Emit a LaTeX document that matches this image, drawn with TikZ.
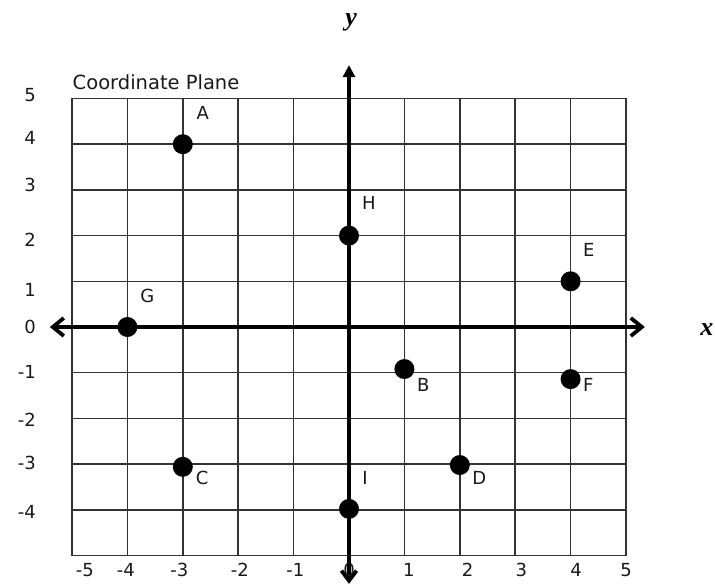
\documentclass[tikz,border=0pt]{standalone}
\usepackage{fontspec}
\setmainfont{DejaVu Sans}
\newfontfamily\axisfont{Liberation Serif}
\usetikzlibrary{arrows.meta}
\begin{document}
\begin{tikzpicture}[x=55.4pt,y=45.7pt,
  gridline/.style={draw=black!80, line width=1.5pt},
  axisline/.style={line width=3.8pt, line cap=butt},
  dot/.style={circle, fill=black, inner sep=0pt, minimum size=20pt},
  ptlabel/.style={font=\fontsize{18}{20}\selectfont, inner sep=0pt, text=black!90},
  numlabel/.style={font=\fontsize{18}{20}\selectfont, inner sep=0pt, text=black!90},
  axlabel/.style={font=\axisfont\bfseries\itshape\fontsize{26}{28}\selectfont, inner sep=0pt}]
\useasboundingbox (-349pt,-260pt) rectangle (366pt,327pt);
% grid
\foreach \i in {-5,...,5} {
  \draw[gridline] (\i,-5) -- (\i,5);
  \draw[gridline] (-5,\i) -- (5,\i);
}
% axes
\coordinate (xl) at (-5.40,0);
\coordinate (xr) at (5.34,0);
\coordinate (yb) at (0,-5.62);
\coordinate (yt) at (0,5.73);
\draw[axisline, {Straight Barb[length=11pt,width=18pt]}-{Straight Barb[length=11pt,width=18pt]}] (xl) -- (xr);
\draw[axisline, {Straight Barb[length=10pt,width=15pt]}-{Triangle[length=12pt,width=12pt]}] (yb) -- (yt);
\node[axlabel] (xlab) at (6.46,-0.06) {x};
\node[axlabel] (ylab) at (0.04,6.66) {y};
% title
\node[anchor=base west, inner sep=0pt, font=\fontsize{19.5}{21}\selectfont, text=black!90] (title) at (-4.99,5.19) {Coordinate Plane};
% left labels
\foreach \v/\yy in {5/5.08,4/4.14,3/3.11,2/1.90,1/0.81,0/0,-1/-0.98,-2/-2.03,-3/-2.98,-4/-4.05} {
  \node[numlabel, anchor=east] (yl\v) at (-5.65,\yy) {\v};
}
% bottom labels
\foreach \v/\xx in {-5/-4.77,-4/-4.03,-3/-3.06,-2/-1.97,-1/-0.97,0/0,1/1.08,2/2.14,3/3.11,4/4.10,5/5.00} {
  \node[numlabel] (xl\v) at (\xx,-5.32) {\v};
}
% points
\node[dot] (A) at (-3,4) {};
\node[dot] (H) at (0,2) {};
\node[dot] (E) at (4,1) {};
\node[dot] (G) at (-4,0) {};
\node[dot] (B) at (1,-0.92) {};
\node[dot] (F) at (4,-1.14) {};
\node[dot] (C) at (-3,-3.06) {};
\node[dot] (D) at (2,-3.02) {};
\node[dot] (I) at (0,-3.98) {};
% point labels
\node[ptlabel] (lA) at (-2.64,4.68) {A};
\node[ptlabel] (lH) at (0.36,2.71) {H};
\node[ptlabel] (lE) at (4.33,1.69) {E};
\node[ptlabel] (lG) at (-3.64,0.69) {G};
\node[ptlabel] (lB) at (1.34,-1.27) {B};
\node[ptlabel] (lF) at (4.32,-1.27) {F};
\node[ptlabel] (lC) at (-2.65,-3.31) {C};
\node[ptlabel] (lD) at (2.35,-3.31) {D};
\node[ptlabel] (lI) at (0.29,-3.31) {I};
\end{tikzpicture}
\end{document}
